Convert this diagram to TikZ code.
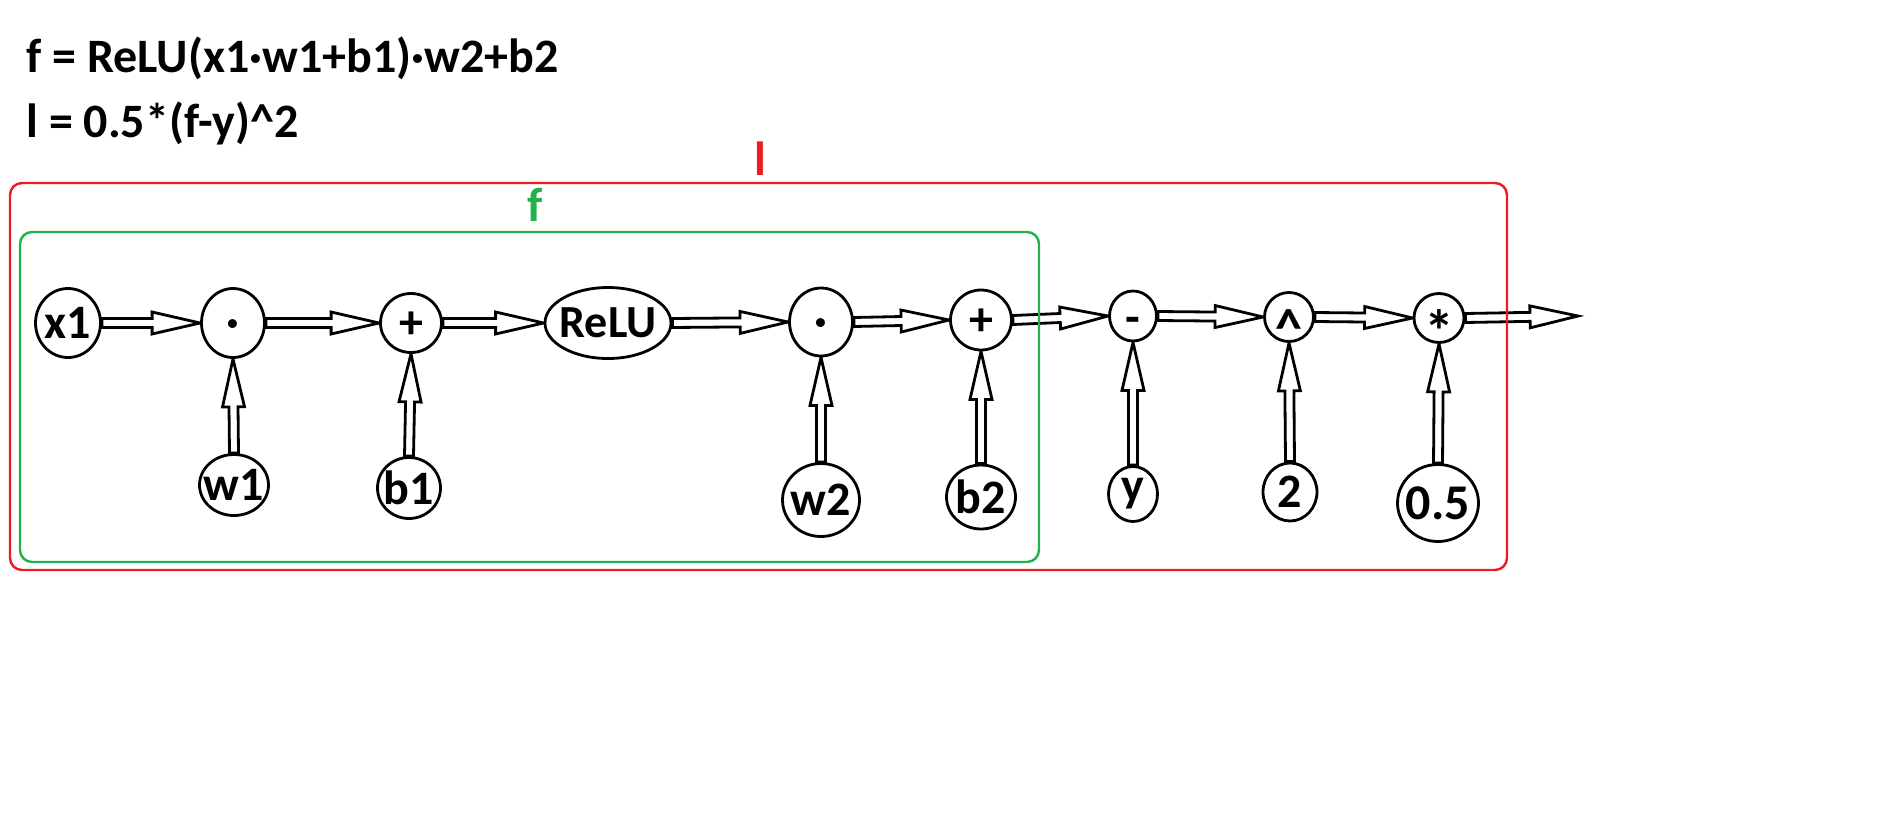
\documentclass[tikz,border=0pt]{standalone}
\usepackage{fontspec}
\setmainfont{Carlito}
\usetikzlibrary{shapes.geometric,calc,backgrounds}
\definecolor{pred}{HTML}{ED1C24}
\definecolor{pgreen}{HTML}{22B14C}
\newcommand\zw[1]{\makebox[0pt]{#1}}
% glyph placed with its ink centre (at height #1) on the node centre
\newcommand\sym[2]{\makebox[0pt]{\raisebox{-#1}[0pt][0pt]{#2}}}
\begin{document}
\begin{tikzpicture}[x=0.5pt,y=-0.5pt,
  op/.style n args={2}{ellipse, draw, line width=1.4pt, fill=white, inner sep=0pt,
    minimum width=#1pt, minimum height=#2pt, font=\bfseries\fontsize{24}{28}\selectfont},
  blk/.style={draw, line width=1.4pt, fill=white, line join=miter,
    to path={
      ($(\tikztostart)!2.25pt!90:(\tikztotarget)$)
      -- ($(\tikztotarget)!24pt!(\tikztostart)!2.25pt!-90:(\tikztostart)$)
      -- ($(\tikztotarget)!24pt!(\tikztostart)!5.5pt!-90:(\tikztostart)$)
      -- (\tikztotarget)
      -- ($(\tikztotarget)!24pt!(\tikztostart)!5.5pt!90:(\tikztostart)$)
      -- ($(\tikztotarget)!24pt!(\tikztostart)!2.25pt!90:(\tikztostart)$)
      -- ($(\tikztostart)!2.25pt!-90:(\tikztotarget)$)
      -- cycle}},
  frame/.style={line width=1.2pt, rounded corners=6pt},
  lab/.style={font=\bfseries\fontsize{24}{28}\selectfont, inner sep=0pt, anchor=base}
]
\useasboundingbox (0,0) rectangle (1895,835);

% formulas
\node[lab, anchor=base west] (eq1) at (26,72) {f = ReLU(x1·w1+b1)·w2+b2};
\node[lab, anchor=base west] (eq2) at (26,137) {l = 0.5*(f-y)\textasciicircum 2};

% group labels
\node[lab, text=pred] (lL) at (760,175) {l};
\node[lab, text=pgreen] (lF) at (535,221) {f};

% operation nodes
\node[op={32.5}{34.5}] (x1) at (68,323) {\zw{x1}};
\node[op={31.5}{34.5}] (d1) at (233,323) {\sym{0.3em}{·}};
\node[op={30.5}{29.5}] (p1) at (411,323) {\sym{0.32em}{+}};
\node[op={63}{35.5}, font=\bfseries\fontsize{23}{28}\selectfont] (relu) at (608,323) {\zw{ReLU}};
\node[op={31.5}{34}] (d2) at (821,322) {\sym{0.3em}{·}};
\node[op={30.5}{30}] (p2) at (981,320) {\sym{0.32em}{+}};
\node[op={23.5}{25}] (mi) at (1133,316) {\sym{0.36em}{-}};
\node[op={24.5}{24.5}, font=\bfseries\fontsize{27}{28}\selectfont] (pw) at (1289,317) {\sym{0.55em}{\textasciicircum}};
\node[op={25}{24.5}, font=\bfseries\fontsize{30}{30}\selectfont] (ml) at (1439,318) {\sym{0.58em}{*}};

% input nodes
\node[op={34.5}{30.5}] (w1) at (234,485) {\zw{w1}};
\node[op={31.5}{30.5}] (b1) at (409,488) {\zw{b1}};
\node[op={38.5}{36.5}] (w2) at (821,500) {\zw{w2}};
\node[op={34.5}{32}] (b2) at (981,497) {\zw{b2}};
\node[op={24.5}{27.5}] (yy) at (1133,494) {\zw{y}};
\node[op={27}{29}] (two) at (1290,492) {\zw{2}};
\node[op={40.5}{38.5}, font=\bfseries\fontsize{25}{28}\selectfont] (half) at (1438,503) {\zw{0.5}};

\coordinate (out) at (1578,316);

\begin{pgfonlayer}{background}
\draw[blk] (x1.east) to (d1.west);
\draw[blk] (d1.east) to (p1.west);
\draw[blk] (p1.east) to (relu.west);
\draw[blk] (relu.east) to (d2.west);
\draw[blk] (d2.east) to (p2.west);
\draw[blk] (p2.east) to (mi.west);
\draw[blk] (mi.east) to (pw.west);
\draw[blk] (pw.east) to (ml.west);
\draw[blk] (ml.east) to (out);
\draw[blk] (w1.north) to (d1.south);
\draw[blk] (b1.north) to (p1.south);
\draw[blk] (w2.north) to (d2.south);
\draw[blk] (b2.north) to (p2.south);
\draw[blk] (yy.north) to (mi.south);
\draw[blk] (two.north) to (pw.south);
\draw[blk] (half.north) to (ml.south);
\end{pgfonlayer}

% groups
\draw[frame, draw=pred] (10,183) rectangle (1507,570);
\draw[frame, draw=pgreen] (20,232) rectangle (1039,562);
\end{tikzpicture}
\end{document}
